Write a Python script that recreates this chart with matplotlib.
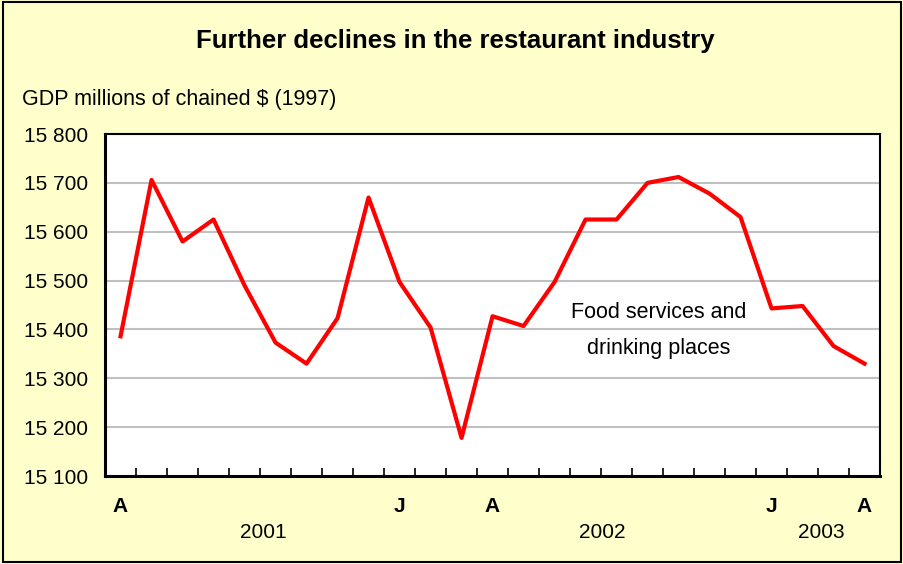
import matplotlib
matplotlib.use("Agg")
import matplotlib.pyplot as plt
from matplotlib.patches import Rectangle
from matplotlib.transforms import blended_transform_factory

plt.rcParams['font.family'] = ['Liberation Sans', 'DejaVu Sans']

# monthly GDP, April 2001 to April 2003
gdp = [15386, 15706, 15580, 15625, 15490, 15373, 15330, 15423, 15670, 15497,
       15404, 15178, 15427, 15407, 15497, 15625, 15625, 15700, 15712, 15678,
       15630, 15443, 15448, 15366, 15330]
month_pos = [0, 9, 12, 21, 24]
month_labels = ["A", "J", "A", "J", "A"]
year_pos = [4.6, 15.55, 22.6]
year_labels = ["2001", "2002", "2003"]
yticks = [15100, 15200, 15300, 15400, 15500, 15600, 15700, 15800]

bg = "#FFFFCC"
fig = plt.figure(figsize=(9.04, 5.64), dpi=100, facecolor=bg)
ax = fig.add_axes([0.1162, 0.156, 0.8573, 0.6064])
ax.set_facecolor("white")

for v in yticks[1:-1]:
    ax.axhline(v, color="#C0C0C0", lw=1.5, zorder=1)

ax.plot(range(len(gdp)), gdp, color="#FF0000", lw=3, zorder=3)

ax.set_xlim(-0.5, len(gdp) - 0.5)
ax.set_ylim(15100, 15800)
ax.set_yticks(yticks)
ax.set_yticklabels([f"{v // 1000} {v % 1000:03d}" for v in yticks], fontsize=15)
ax.tick_params(axis="y", length=0, pad=12)
ax.set_xticks([i + 0.5 for i in range(len(gdp) - 1)])
ax.set_xticklabels([])
ax.tick_params(axis="x", direction="in", length=6, width=1.2)

for s in ax.spines.values():
    s.set_linewidth(1.5)
ax.spines["left"].set_linewidth(2.2)
ax.spines["bottom"].set_linewidth(2.2)

tr = blended_transform_factory(ax.transData, fig.transFigure)
for p, lab in zip(month_pos, month_labels):
    fig.text(p, 1 - 507 / 564, lab, transform=tr, ha="center", va="center",
             fontsize=15, fontweight="bold")
for p, lab in zip(year_pos, year_labels):
    fig.text(p, 1 - 533 / 564, lab, transform=tr, ha="center", va="center",
             fontsize=15)

ax.text(17.35, 15398, "Food services and\ndrinking places", ha="center",
        va="center", fontsize=15.5, linespacing=1.9)

fig.text(455 / 904, 1 - 41 / 564, "Further declines in the restaurant industry",
         ha="center", va="center", fontsize=18.5, fontweight="bold")
fig.text(22 / 904, 1 - 100 / 564, "GDP millions of chained $ (1997)",
         ha="left", va="center", fontsize=15.5)

fig.patches.append(Rectangle((0.003, 0.003), 0.994, 0.994, transform=fig.transFigure,
                             fill=False, edgecolor="black", lw=1.5))

fig.savefig("out.png", dpi=100, facecolor=bg)
